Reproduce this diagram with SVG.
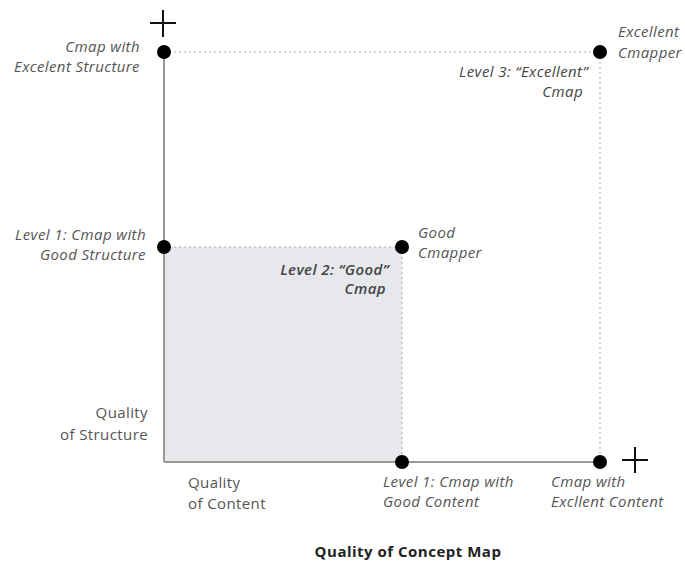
<svg xmlns="http://www.w3.org/2000/svg" width="685" height="571" viewBox="0 0 685 571">
<style>
.lbl{font-family:"Open Sans","Liberation Sans",sans-serif;font-size:15px;letter-spacing:0.4px;font-style:italic;fill:#555}
.lvl{font-family:"Open Sans","Liberation Sans",sans-serif;font-size:15px;letter-spacing:0.4px;font-style:italic;fill:#444}
.ax{font-family:"Open Sans","Liberation Sans",sans-serif;font-size:15px;letter-spacing:0.4px;fill:#555}
.ttl{font-family:"Open Sans","Liberation Sans",sans-serif;font-size:15px;letter-spacing:0.5px;font-weight:bold;fill:#222}
.axis{stroke:#999;stroke-width:2;fill:none}
.dot{stroke:#aaa;stroke-width:1;stroke-dasharray:2 3;fill:none}
.plus{stroke:#111;stroke-width:2}
.pt{fill:#000}
</style>
<rect width="685" height="571" fill="#fff"/>
<rect x="164" y="247" width="238" height="215" fill="#e6e8ec"/>
<g id="connectors">
<line class="dot" x1="164" y1="52" x2="600" y2="52"/>
<line class="dot" x1="600" y1="52" x2="600" y2="462"/>
<line class="dot" x1="164" y1="247" x2="402" y2="247"/>
<line class="dot" x1="402" y1="247" x2="402" y2="462"/>
<line class="axis" x1="164" y1="52" x2="164" y2="462"/>
<line class="axis" x1="164" y1="462" x2="600" y2="462"/>
<path class="plus" d="M150 23H176M163 10V37"/>
<path class="plus" d="M622 460H648M635 447V473"/>
</g>
<g id="excellent-structure">
<circle class="pt" cx="164" cy="52" r="7"/>
<text class="lbl" text-anchor="end"><tspan x="140" y="52">Cmap with</tspan><tspan x="140" y="72">Excelent Structure</tspan></text>
</g>
<g id="excellent-cmapper">
<circle class="pt" cx="600" cy="52" r="7"/>
<text class="lbl"><tspan x="618" y="37">Excellent</tspan><tspan x="618" y="58">Cmapper</tspan></text>
<text class="lvl" text-anchor="end"><tspan x="588" y="77">Level 3: “Excellent”</tspan><tspan x="583" y="97">Cmap</tspan></text>
</g>
<g id="good-structure">
<circle class="pt" cx="164" cy="247" r="7"/>
<text class="lbl" text-anchor="end"><tspan x="146" y="240">Level 1: Cmap with</tspan><tspan x="146" y="260">Good Structure</tspan></text>
</g>
<g id="good-cmapper">
<circle class="pt" cx="402" cy="247" r="7"/>
<text class="lbl"><tspan x="418" y="238">Good</tspan><tspan x="418" y="258">Cmapper</tspan></text>
<text class="lvl" text-anchor="end" font-weight="600"><tspan x="389" y="275">Level 2: “Good”</tspan><tspan x="386" y="294">Cmap</tspan></text>
</g>
<g id="good-content">
<circle class="pt" cx="402" cy="462" r="7"/>
<text class="lbl"><tspan x="383" y="487">Level 1: Cmap with</tspan><tspan x="383" y="507">Good Content</tspan></text>
</g>
<g id="excellent-content">
<circle class="pt" cx="600" cy="462" r="7"/>
<text class="lbl"><tspan x="551" y="487">Cmap with</tspan><tspan x="551" y="507">Excllent Content</tspan></text>
</g>
<g id="axis-labels">
<text class="ax" text-anchor="end"><tspan x="148" y="418">Quality</tspan><tspan x="148" y="440">of Structure</tspan></text>
<text class="ax"><tspan x="188" y="488">Quality</tspan><tspan x="188" y="509">of Content</tspan></text>
<text class="ttl" text-anchor="middle" x="408" y="557">Quality of Concept Map</text>
</g>
</svg>
